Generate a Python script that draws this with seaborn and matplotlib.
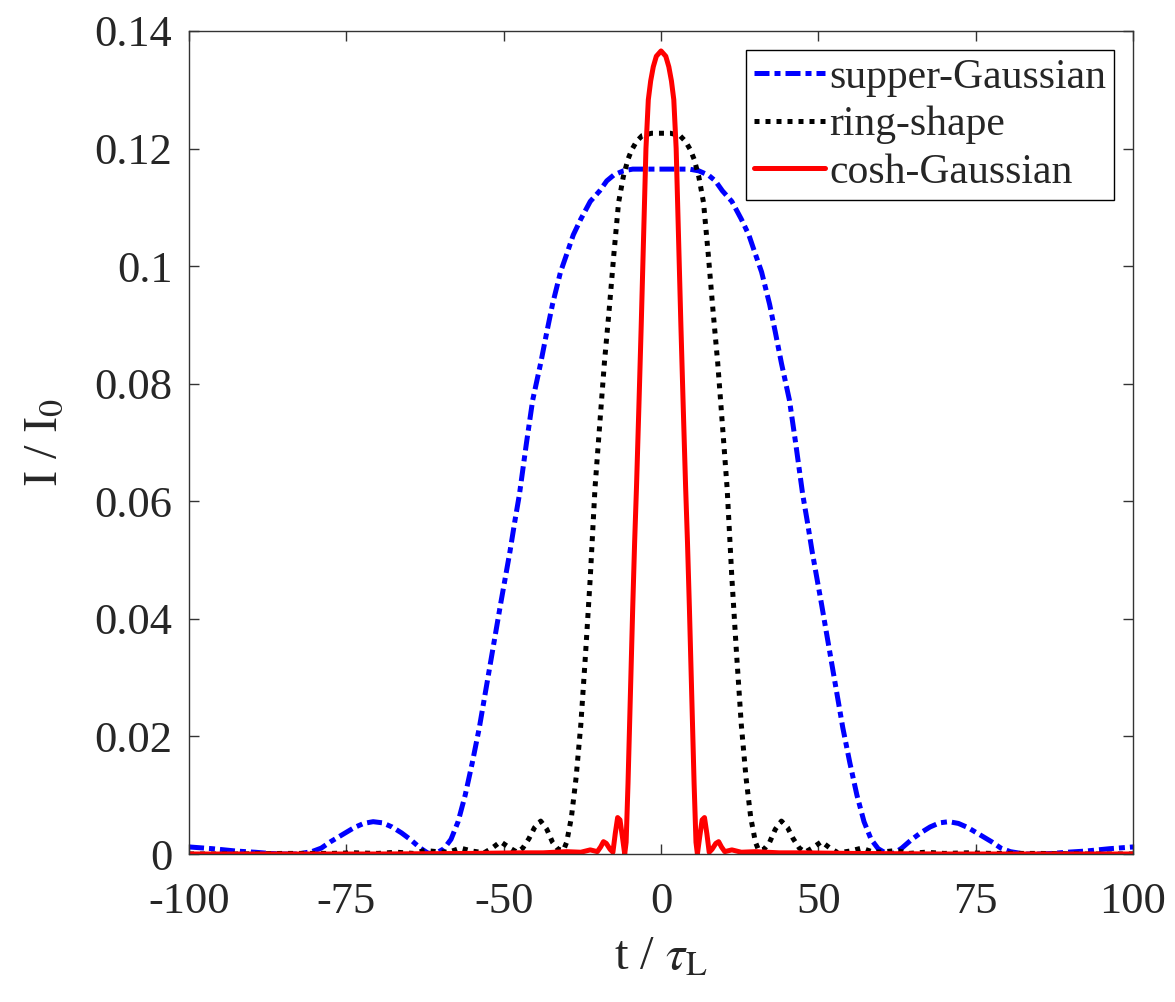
import pandas as pd
import matplotlib
matplotlib.use("Agg")
import matplotlib.pyplot as plt
import seaborn as sns

# super-Gaussian (blue, dash-dot)
sg_t = [-100, -95, -90, -86, -83, -80, -77, -74, -72, -70, -67.5, -65, -63, -61, -59, -57, -55, -53, -51,
        -49.5, -48.5, -47.5, -46, -44.5, -43, -41.5, -40, -38.5, -37, -35.5, -34, -33, -32, -31, -30,
        -28.5, -27.2, -25.5, -24.2, -23, -21.3, -20, -18.6, -17, -15, -13, -11.5, -10, -8, -6, 0,
        6, 8, 10, 11.5, 13, 15, 17, 18.6, 20, 21.3, 23, 24.2, 25.5, 27.2, 28.5, 30, 31, 32, 33, 34,
        35.5, 37, 38.5, 40, 41.5, 43, 44.5, 46, 47.5, 48.5, 49.5, 51, 53, 55, 57, 59, 61, 63, 65,
        67.5, 70, 72, 74, 77, 80, 83, 86, 90, 95, 100]
sg_I = [0.0012, 0.0009, 0.0005, 0.0003, 0.0001, 0.0, 0.0, 0.0004, 0.0010, 0.0021, 0.0033, 0.0045, 0.0052,
        0.0055, 0.0053, 0.0046, 0.0036, 0.0024, 0.0010, 0.0002, 0.0, 0.0002, 0.0009, 0.0025, 0.0055,
        0.0100, 0.0155, 0.0215, 0.0285, 0.0355, 0.0425, 0.0470, 0.0515, 0.0565, 0.0612, 0.0700, 0.0772,
        0.0835, 0.0888, 0.0935, 0.0990, 0.1020, 0.1053, 0.1080, 0.1110, 0.1128, 0.1145, 0.1155, 0.1162,
        0.1165, 0.1165,
        0.1165, 0.1162, 0.1155, 0.1145, 0.1128, 0.1110, 0.1080, 0.1053, 0.1020, 0.0990, 0.0935, 0.0888,
        0.0835, 0.0772, 0.0700, 0.0612, 0.0565, 0.0515, 0.0470, 0.0425, 0.0355, 0.0285, 0.0215, 0.0155,
        0.0100, 0.0055, 0.0025, 0.0009, 0.0002, 0.0, 0.0002, 0.0010, 0.0024, 0.0036, 0.0046, 0.0053,
        0.0055, 0.0052, 0.0045, 0.0033, 0.0021, 0.0010, 0.0004, 0.0, 0.0, 0.0001, 0.0003, 0.0005,
        0.0009, 0.0012]

# ring-shape (black, dotted)
rs_t = [-100, -90, -80, -70, -65, -60, -56, -52.5, -50, -47.5, -45, -42.5, -40, -37.5, -35.8, -34, -32,
        -30.5, -29.3, -28, -26.8, -25.5, -24.2, -23, -21.8, -20.7, -20, -19, -18, -17, -16, -15, -14,
        -13, -12, -11, -10, -9, -8, -7, -6.2, -5.2, -4, -2, 0,
        2, 4, 5.2, 6.2, 7, 8, 9, 10, 11, 12, 13, 14, 15, 16, 17, 18, 19, 20, 20.7, 21.8, 23, 24.2,
        25.5, 26.8, 28, 29.3, 30.5, 32, 34, 35.8, 37.5, 40, 42.5, 45, 47.5, 50, 52.5, 56, 60, 65, 70,
        80, 90, 100]
rs_I = [0.0, 0.0, 0.0001, 0.0001, 0.0002, 0.0001, 0.0003, 0.0001, 0.0006, 0.0004, 0.0003, 0.0010, 0.0005,
        0.0002, 0.0010, 0.0021, 0.0010, 0.0003, 0.0010, 0.0026, 0.0045, 0.0056, 0.0042, 0.0020, 0.0008,
        0.0006, 0.0020, 0.0062, 0.0130, 0.0220, 0.0340, 0.0470, 0.0622, 0.0730, 0.0836, 0.0925, 0.1020,
        0.1108, 0.1152, 0.1182, 0.1198, 0.1212, 0.1222, 0.1226, 0.1226,
        0.1226, 0.1222, 0.1212, 0.1198, 0.1182, 0.1152, 0.1108, 0.1020, 0.0925, 0.0836, 0.0730, 0.0622,
        0.0470, 0.0340, 0.0220, 0.0130, 0.0062, 0.0020, 0.0006, 0.0008, 0.0020, 0.0042, 0.0056, 0.0045,
        0.0026, 0.0010, 0.0003, 0.0010, 0.0021, 0.0010, 0.0002, 0.0005, 0.0010, 0.0003, 0.0004, 0.0006,
        0.0001, 0.0003, 0.0001, 0.0002, 0.0001, 0.0001, 0.0, 0.0]

# cosh-Gaussian (red, solid)
cg_t = [-100, -80, -60, -40, -30, -25, -20, -17, -15, -13.5, -12.8, -12.2, -11.6, -10.8, -10.2, -9.7,
        -9.2, -8.7, -8.2, -7.7, -7.4, -7.0, -6.5, -6.0, -5.6, -5.2, -4.7, -4.2, -3.7, -3.2, -2.7, -2.2,
        -1.65, -1.0, 0,
        1.0, 1.65, 2.2, 2.7, 3.2, 3.7, 4.2, 4.7, 5.2, 5.6, 6.0, 6.5, 7.0, 7.4, 7.7, 8.2, 8.7, 9.2, 9.7,
        10.2, 10.8, 11.6, 12.2, 12.8, 13.5, 15, 17, 20, 25, 30, 40, 60, 80, 100]
cg_I = [0.0, 0.0, 0.0, 0.0001, 0.0002, 0.0002, 0.0004, 0.0003, 0.0007, 0.0004, 0.0012, 0.0021, 0.0018,
        0.0008, 0.0003, 0.0035, 0.0062, 0.0058, 0.0030, 0.0, 0.0020, 0.0120, 0.0270, 0.0420, 0.0530,
        0.0625, 0.0760, 0.0900, 0.1050, 0.1200, 0.1283, 0.1315, 0.1339, 0.1357, 0.1366,
        0.1357, 0.1339, 0.1315, 0.1283, 0.1200, 0.1050, 0.0900, 0.0760, 0.0625, 0.0530, 0.0420, 0.0270,
        0.0120, 0.0020, 0.0, 0.0030, 0.0058, 0.0062, 0.0035, 0.0003, 0.0008, 0.0018, 0.0021, 0.0012,
        0.0004, 0.0007, 0.0003, 0.0004, 0.0002, 0.0002, 0.0001, 0.0, 0.0, 0.0]

x_ticks = [-100, -200 / 3, -100 / 3, 0, 100 / 3, 200 / 3, 100]
x_labels = ["-100", "-75", "-50", "0", "50", "75", "100"]
y_ticks = [0, 0.02, 0.04, 0.06, 0.08, 0.1, 0.12, 0.14]
y_labels = ["0", "0.02", "0.04", "0.06", "0.08", "0.1", "0.12", "0.14"]

sns.set_style("ticks")
plt.rcParams["font.family"] = ["Liberation Serif", "DejaVu Serif"]
plt.rcParams["mathtext.fontset"] = "stix"

fig = plt.figure(figsize=(11.75, 10.02), dpi=100)
ax = fig.add_axes([0.1609, 0.1477, 0.8034, 0.8214])

df_sg = pd.DataFrame({"t": sg_t, "I": sg_I})
df_rs = pd.DataFrame({"t": rs_t, "I": rs_I})
df_cg = pd.DataFrame({"t": cg_t, "I": cg_I})

sns.lineplot(data=df_sg, x="t", y="I", ax=ax, color="#0000ff", linewidth=3.6,
             linestyle=(0, (3, 1, 1.2, 1)), label="supper-Gaussian")
sns.lineplot(data=df_rs, x="t", y="I", ax=ax, color="black", linewidth=3.6,
             linestyle=(0, (1, 1.2)), label="ring-shape")
sns.lineplot(data=df_cg, x="t", y="I", ax=ax, color="#ff0000", linewidth=3.6,
             linestyle="-", label="cosh-Gaussian")

ax.set_xlim(-100, 100)
ax.set_ylim(0, 0.14)
ax.set_xticks(x_ticks)
ax.set_xticklabels(x_labels)
ax.set_yticks(y_ticks)
ax.set_yticklabels(y_labels)
ax.tick_params(direction="in", length=7, width=1, top=True, right=True,
               labelsize=32, pad=12, color="#333333")
ax.tick_params(axis="x", pad=20)
for s in ax.spines.values():
    s.set_linewidth(1.0)
    s.set_color("#333333")

ax.set_xlabel(r"t / $\tau_\mathrm{L}$", fontsize=35, labelpad=10)
ax.set_ylabel(r"I / I$_\mathrm{0}$", fontsize=35, labelpad=20)

leg = ax.legend(loc="upper right", fontsize=30, frameon=True, fancybox=False,
                edgecolor="black", framealpha=1, handlelength=1.7, handletextpad=0.1,
                labelspacing=0.22, borderpad=0.2, borderaxespad=0.45)
leg.get_frame().set_linewidth(1.0)

fig.savefig("out.png", dpi=100)
